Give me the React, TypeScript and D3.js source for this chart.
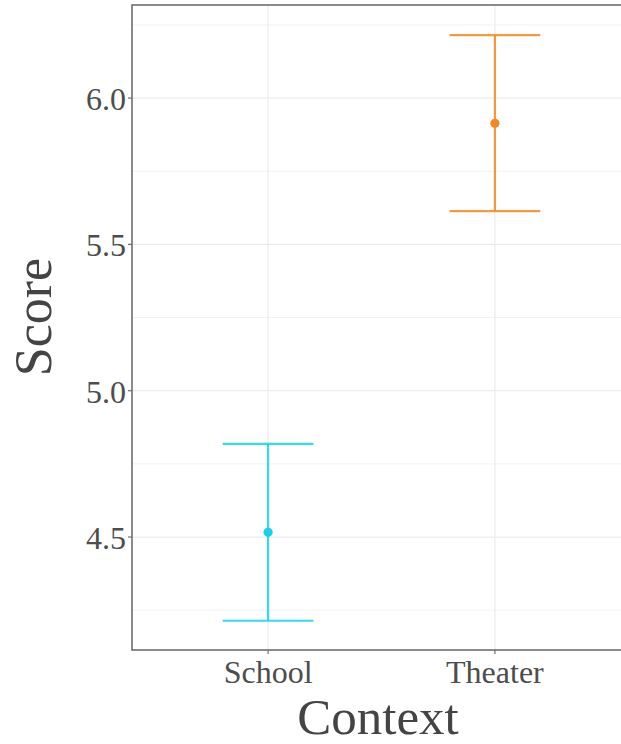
import React from "react";
import * as d3 from "d3";

// Mean score per context with its error-bar bounds
const contexts = ["School", "Theater"];
const means = [4.516, 5.914];
const lowers = [4.214, 5.614];
const uppers = [4.818, 6.215];
const colors = ["#14D3E8", "#F4871F"];
const majorTicks = [4.5, 5.0, 5.5, 6.0];
const minorTicks = [4.25, 4.75, 5.25, 5.75, 6.25];

const W = 621;
const H = 744;
const panel = { left: 132, right: 631, top: 5, bottom: 650 };
const serif = "'Liberation Serif', 'Times New Roman', serif";

export default function App() {
  const y = d3.scaleLinear().domain([4.114, 6.318]).range([panel.bottom, panel.top]);
  const x = d3
    .scalePoint<string>()
    .domain(contexts)
    .range([panel.left, panel.right])
    .padding(0.6);
  const capHalf = x.step() * 0.2;
  const fmt = d3.format(".1f");

  return (
    <svg
      width={W}
      height={H}
      style={{ display: "block", position: "absolute", left: 0, top: 0, background: "#fff" }}
    >
      <defs>
        <clipPath id="panel-clip">
          <rect x={panel.left} y={panel.top} width={panel.right - panel.left} height={panel.bottom - panel.top} />
        </clipPath>
      </defs>
      <rect x={0} y={0} width={W} height={H} fill="#fff" />
      <g clipPath="url(#panel-clip)">
        {minorTicks.map((t) => (
          <line key={"mn" + t} x1={panel.left} x2={panel.right} y1={y(t)} y2={y(t)} stroke="#F2F2F2" strokeWidth={1} />
        ))}
        {majorTicks.map((t) => (
          <line key={"mj" + t} x1={panel.left} x2={panel.right} y1={y(t)} y2={y(t)} stroke="#EBEBEB" strokeWidth={1.2} />
        ))}
        {contexts.map((c) => (
          <line key={"vx" + c} x1={x(c)} x2={x(c)} y1={panel.top} y2={panel.bottom} stroke="#EBEBEB" strokeWidth={1.2} />
        ))}
        {contexts.map((c, i) => {
          const cx = x(c)!;
          return (
            <g key={"eb" + c} stroke={colors[i]} strokeWidth={2.2} strokeOpacity={0.85}>
              <line x1={cx} x2={cx} y1={y(uppers[i])} y2={y(lowers[i])} />
              <line x1={cx - capHalf} x2={cx + capHalf} y1={y(uppers[i])} y2={y(uppers[i])} />
              <line x1={cx - capHalf} x2={cx + capHalf} y1={y(lowers[i])} y2={y(lowers[i])} />
              <circle cx={cx} cy={y(means[i])} r={4.6} fill={colors[i]} stroke="none" />
            </g>
          );
        })}
      </g>
      {/* panel border (right side lies beyond the canvas) */}
      <rect
        x={panel.left}
        y={panel.top}
        width={panel.right - panel.left}
        height={panel.bottom - panel.top}
        fill="none"
        stroke="#6E6E6E"
        strokeWidth={1.6}
      />
      {/* y axis ticks and labels */}
      {majorTicks.map((t) => (
        <g key={"yt" + t}>
          <line x1={panel.left - 4} x2={panel.left} y1={y(t)} y2={y(t)} stroke="#6E6E6E" strokeWidth={1.2} />
          <text
            x={panel.left - 6}
            y={y(t) + 12}
            textAnchor="end"
            fontFamily={serif}
            fontSize={32}
            fill="#4D4D4D"
          >
            {fmt(t)}
          </text>
        </g>
      ))}
      {/* x axis ticks and labels */}
      {contexts.map((c) => (
        <g key={"xt" + c}>
          <line x1={x(c)} x2={x(c)} y1={panel.bottom} y2={panel.bottom + 4} stroke="#6E6E6E" strokeWidth={1.2} />
          <text x={x(c)} y={683} textAnchor="middle" fontFamily={serif} fontSize={32} fill="#4D4D4D">
            {c}
          </text>
        </g>
      ))}
      <text x={378} y={734} textAnchor="middle" fontFamily={serif} fontSize={51} fill="#444">
        Context
      </text>
      <text
        transform={`translate(51, 317) rotate(-90)`}
        textAnchor="middle"
        fontFamily={serif}
        fontSize={52}
        fill="#444"
      >
        Score
      </text>
    </svg>
  );
}
